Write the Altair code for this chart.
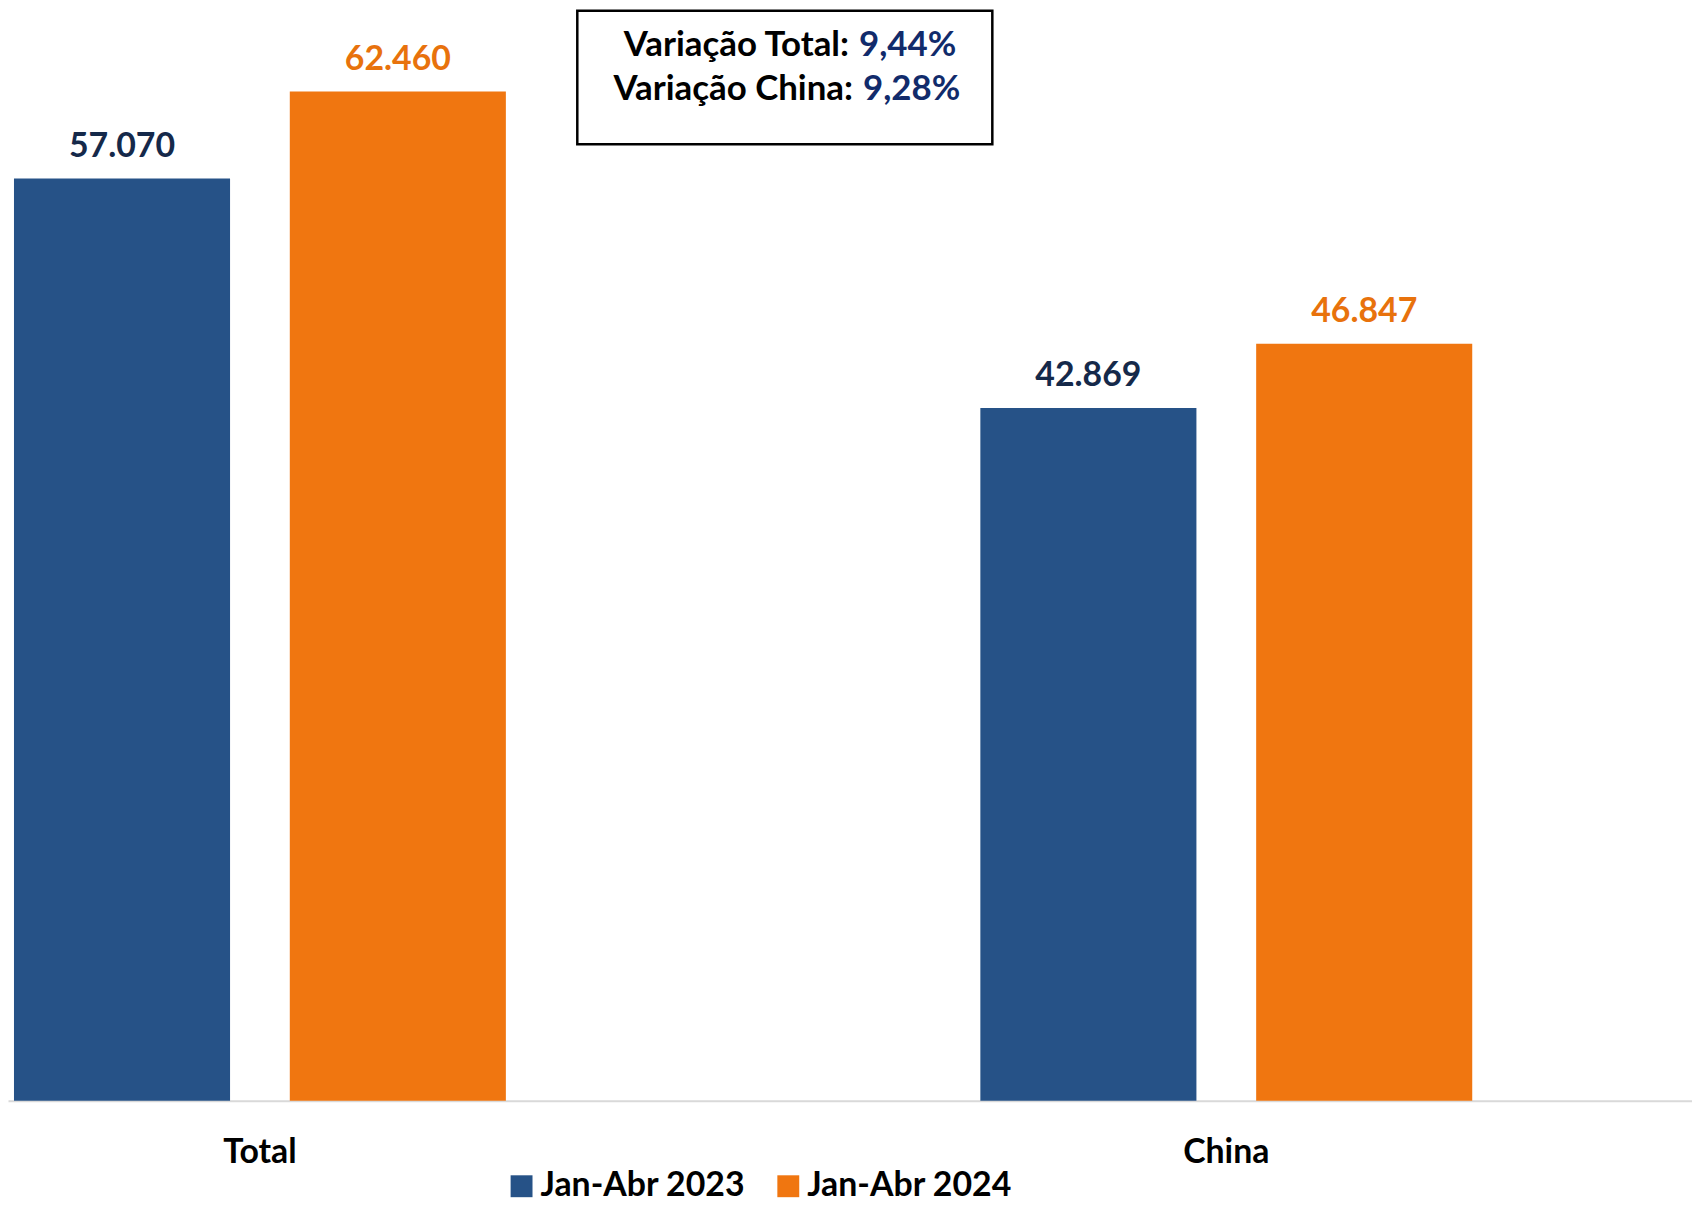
import altair as alt
import pandas as pd

categories = ["Total", "China"]
series_names = ["Jan-Abr 2023", "Jan-Abr 2024"]
values_2023 = [57070, 42869]
values_2024 = [62460, 46847]
box_labels = ["Variação Total:", "Variação China:"]
box_pcts = ["9,44%", "9,28%"]

rows = []
for i, c in enumerate(categories):
    rows.append({"category": c, "series": series_names[0], "value": values_2023[i]})
    rows.append({"category": c, "series": series_names[1], "value": values_2024[i]})
df = pd.DataFrame(rows)

FONT = "Lato"
BLUE = "#265287"
ORANGE = "#F07610"

x_enc = alt.X("category:N", sort=categories, title=None,
              scale=alt.Scale(paddingInner=0.491, paddingOuter=0.1168, align=0.0265),
              axis=alt.Axis(labelAngle=0, ticks=False, tickSize=0, domainColor="#D9D9D9",
                            domainWidth=2, labelFont=FONT, labelFontSize=34,
                            labelFontWeight="bold", labelColor="#000000", labelPadding=35))
xoff_enc = alt.XOffset("series:N", sort=series_names,
                       scale=alt.Scale(paddingInner=0.2166, paddingOuter=0))
y_enc = alt.Y("value:Q", scale=alt.Scale(domain=[0, 67450]), axis=None)

base = alt.Chart(df)

bars = base.mark_bar().encode(
    x=x_enc, xOffset=xoff_enc, y=y_enc,
    color=alt.Color("series:N", sort=series_names,
                    scale=alt.Scale(domain=series_names, range=[BLUE, ORANGE]),
                    legend=alt.Legend(title=None, orient="none", direction="horizontal",
                                      legendX=499, legendY=1164, symbolType="square",
                                      symbolSize=484, symbolStrokeWidth=0, padding=0,
                                      labelFont=FONT, labelFontSize=34, labelFontWeight="bold",
                                      labelColor="#000000", labelOffset=2, columnPadding=26,
                                      labelLimit=400)),
)

labels = base.transform_calculate(
    lab="replace(format(datum.value, ','), ',', '.')"
).mark_text(font=FONT, fontSize=34, fontWeight="bold", baseline="alphabetic", dy=-22).encode(
    x=x_enc, xOffset=xoff_enc, y=y_enc,
    text="lab:N",
    color=alt.condition(alt.datum.series == series_names[0], alt.value("#15294A"), alt.value("#E8720C")),
)

box = alt.Chart(pd.DataFrame({"k": [0]})).mark_rect(
    fill="white", stroke="#000000", strokeWidth=2.5
).encode(x=alt.value(572), x2=alt.value(989), y=alt.value(0), y2=alt.value(134))

line_y = [45, 90]
line_x = [845, 849]
texts = []
for i in range(2):
    t1 = alt.Chart(pd.DataFrame({"t": [box_labels[i]]})).mark_text(
        font=FONT, fontSize=35, fontWeight="bold", align="right", baseline="alphabetic",
        color="#000000").encode(x=alt.value(line_x[i]), y=alt.value(line_y[i]), text="t:N")
    t2 = alt.Chart(pd.DataFrame({"t": [box_pcts[i]]})).mark_text(
        font=FONT, fontSize=35, fontWeight="bold", align="left", baseline="alphabetic",
        color="#112B6B").encode(x=alt.value(line_x[i] + 10), y=alt.value(line_y[i]), text="t:N")
    texts += [t1, t2]

chart = alt.layer(bars, labels, box, *texts).properties(
    width=1692, height=1095,
    autosize=alt.AutoSizeParams(type="none"),
    padding={"left": 0, "top": 0, "right": 0, "bottom": 102},
).configure_view(stroke=None)

chart.save("out.html", embed_options={"renderer": "svg", "actions": False})
